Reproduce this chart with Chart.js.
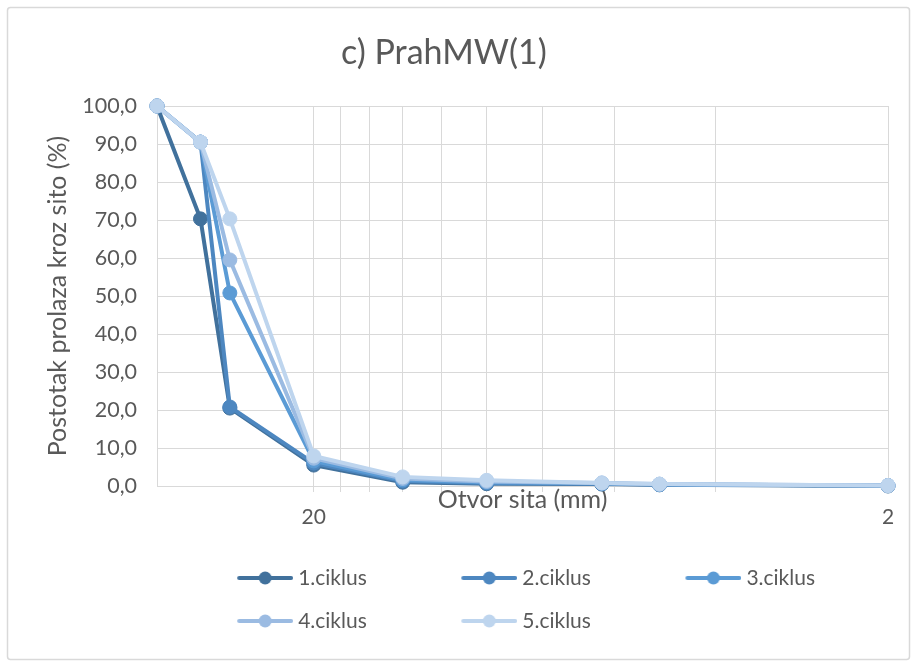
<!DOCTYPE html>
<html><head><meta charset="utf-8">
<script src="https://cdn.jsdelivr.net/npm/chart.js@4.4.1/dist/chart.umd.min.js"></script>
<style>html,body{margin:0;padding:0;background:#fff;}canvas{display:block;}</style>
</head><body>
<canvas id="c" width="912" height="662"></canvas>
<script>
const sieveSizes = [37.5, 31.5, 28, 20, 14, 10, 6.3, 5, 2];
const cycle1 = [100, 70.3, 20.5, 5.5, 1.0, 0.6, 0.5, 0.3, 0.0];
const cycle2 = [100, 90.5, 20.8, 6.0, 1.3, 0.8, 0.6, 0.4, 0.1];
const cycle3 = [100, 90.5, 50.8, 6.6, 1.6, 1.0, 0.7, 0.4, 0.1];
const cycle4 = [100, 90.5, 59.5, 7.3, 2.0, 1.2, 0.8, 0.5, 0.1];
const cycle5 = [100, 90.5, 70.3, 7.9, 2.4, 1.5, 0.8, 0.5, 0.1];
const seriesLabels = ['1.ciklus', '2.ciklus', '3.ciklus', '4.ciklus', '5.ciklus'];
const seriesColors = ['#41719c', '#4d87c0', '#5b9bd5', '#9bbbe2', '#bed5ee'];
const xTickValues = [2, 4, 6, 8, 10, 12, 14, 16, 18, 20];
const xLabelledTicks = [2, 20];
const yTickValues = [0, 10, 20, 30, 40, 50, 60, 70, 80, 90, 100];

const FONT = 'Lato';
const TEXT = '#595959';
const GRID = '#d9d9d9';
const LEG_FS = 21, LEG_PAD = 22;

const mctx = document.createElement('canvas').getContext('2d');
mctx.font = LEG_FS + 'px ' + FONT;
const T = seriesLabels.reduce((a, s) => a + mctx.measureText(s).width, 0) / seriesLabels.length;
const PW = Math.round(224 - LEG_FS / 2 - T - LEG_PAD);
const WC = Math.round(PW + LEG_FS - 10);

function legendImg(color) {
  const c = document.createElement('canvas');
  c.width = WC; c.height = 16;
  const g = c.getContext('2d');
  g.strokeStyle = color; g.lineWidth = 4; g.lineCap = 'round';
  g.beginPath(); g.moveTo(WC - 54, 8); g.lineTo(WC - 2, 8); g.stroke();
  g.fillStyle = color; g.beginPath(); g.arc(WC - 28, 8, 6.5, 0, Math.PI * 2); g.fill();
  return c;
}
const legendImgs = seriesColors.map(legendImg);

const allSeries = [cycle1, cycle2, cycle3, cycle4, cycle5];
const datasets = allSeries.map((vals, i) => ({
  label: seriesLabels[i],
  data: sieveSizes.map((x, j) => ({ x: x, y: vals[j] })),
  borderColor: seriesColors[i],
  backgroundColor: seriesColors[i],
  pointBackgroundColor: seriesColors[i],
  pointBorderColor: seriesColors[i],
  borderWidth: 4,
  pointRadius: 7,
  pointHoverRadius: 7,
  pointBorderWidth: 1,
  tension: 0,
  clip: false,
  order: allSeries.length - 1 - i
}));

const frame = {
  id: 'frame',
  beforeDraw(chart) {
    const ctx = chart.ctx;
    ctx.save();
    ctx.strokeStyle = GRID; ctx.lineWidth = 1.5;
    ctx.beginPath();
    if (ctx.roundRect) ctx.roundRect(7.5, 7.5, 902, 652, 3); else ctx.rect(7.5, 7.5, 902, 652);
    ctx.stroke();
    ctx.restore();
  }
};
const legendShift = {
  id: 'legendShift',
  afterLayout(chart) {
    const lg = chart.legend;
    if (!lg) return;
    const dx = (74 + T) - lg.left;
    lg.left += dx; lg.right += dx;
  }
};

new Chart(document.getElementById('c'), {
  type: 'line',
  data: { datasets: datasets },
  plugins: [frame, legendShift],
  options: {
    responsive: false,
    animation: false,
    devicePixelRatio: 1,
    layout: { padding: { left: 0, right: 24, top: 0, bottom: 20.5 } },
    plugins: {
      title: {
        display: true, text: 'c) PrahMW(1)', color: TEXT,
        font: { family: FONT, size: 34, weight: 'normal' },
        padding: { top: 32.6, bottom: 32.6 }
      },
      legend: {
        position: 'bottom', align: 'start', fullSize: false,
        labels: {
          usePointStyle: true, pointStyleWidth: PW, padding: LEG_PAD, color: TEXT,
          font: { family: FONT, size: LEG_FS },
          generateLabels(chart) {
            const items = Chart.defaults.plugins.legend.labels.generateLabels(chart);
            items.sort((a, b) => a.datasetIndex - b.datasetIndex);
            return items.map(it => Object.assign(it, { pointStyle: legendImgs[it.datasetIndex] }));
          }
        }
      },
      tooltip: { enabled: false }
    },
    scales: {
      x: {
        type: 'logarithmic', reverse: true, min: 2, max: 37.5,
        afterBuildTicks(s) { s.ticks = xTickValues.map(v => ({ value: v })); },
        afterFit(s) { s.height = 59.5; },
        ticks: {
          autoSkip: false, maxRotation: 0, padding: 13, color: TEXT,
          font: { family: FONT, size: 21 },
          callback: v => xLabelledTicks.includes(v) ? String(v) : ''
        },
        grid: { color: GRID, tickColor: GRID, tickLength: 6, lineWidth: 1 },
        border: { color: GRID, width: 1 },
        title: {
          display: true, text: 'Otvor sita (mm)', color: TEXT,
          font: { family: FONT, size: 25 }, padding: { top: 0, bottom: 30.5 }
        }
      },
      y: {
        min: 0, max: 100,
        afterBuildTicks(s) { s.ticks = yTickValues.map(v => ({ value: v })); },
        afterFit(s) { s.width = 157; },
        ticks: {
          padding: 20, color: TEXT, font: { family: FONT, size: 21.5 },
          callback: v => v.toFixed(1).replace('.', ',')
        },
        grid: { color: GRID, drawTicks: false, lineWidth: 1 },
        border: { color: GRID, width: 1 },
        title: {
          display: true, text: 'Postotak prolaza kroz sito (%)', color: TEXT,
          font: { family: FONT, size: 25 }, padding: { top: 43, bottom: 0 }
        }
      }
    }
  }
});
</script>
</body></html>
